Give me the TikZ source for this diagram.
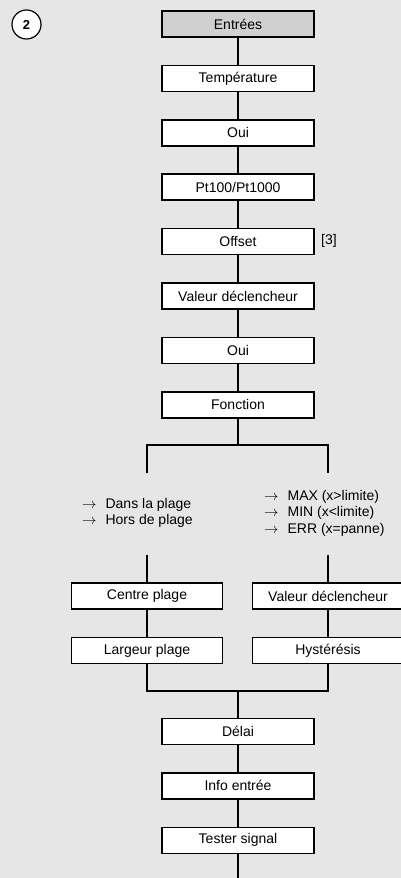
\documentclass[tikz,border=0pt]{standalone}
\usepackage{fontspec}
\setmainfont{Liberation Sans}
\usetikzlibrary{positioning,calc}
\definecolor{bggray}{RGB}{230,230,230}
\definecolor{headgray}{RGB}{208,208,208}

\tikzset{
  menubox/.style={draw, line width=1.5pt, fill=white, minimum width=152pt,
    minimum height=26pt, inner sep=0pt, font=\fontsize{14}{16}\selectfont},
  sidebox/.style={menubox, minimum width=151pt},
  link/.style={line width=1.5pt},
  listtext/.style={align=left, inner sep=0pt, font=\fontsize{14}{16.5}\selectfont}
}

\begin{document}
\begin{tikzpicture}[x=1pt, y=1pt, node distance=26.9pt]
\fill[bggray] (0,0) rectangle (401,878);
\useasboundingbox (0,0) rectangle (401,878);
\clip (0,0) rectangle (401,878);

% step number
\node[draw, circle, line width=1.2pt, fill=white, minimum size=29pt, inner sep=0pt,
  font=\fontsize{13}{15}\selectfont\bfseries] (stepnum) at (26.5,853.5) {2};

% main column
\node[menubox, fill=headgray] (entrees) at (238,854) {Entrées};
\node[menubox, below=of entrees] (temp) {Température};
\node[menubox, below=of temp] (oui1) {Oui};
\node[menubox, below=of oui1] (sonde) {Pt100/Pt1000};
\node[menubox, below=of sonde] (offset) {Offset};
\node[menubox, below=of offset] (valeur) {Valeur déclencheur};
\node[menubox, below=of valeur] (oui2) {Oui};
\node[menubox, below=of oui2] (fonct) {Fonction};
\node[anchor=west, inner sep=0pt, font=\fontsize{14}{16}\selectfont] (ref) at (321,637) {[3]};

\foreach \a/\b in {entrees/temp, temp/oui1, oui1/sonde, sonde/offset,
                   offset/valeur, valeur/oui2, oui2/fonct}
  \draw[link] (\a) -- (\b);

% branch
\coordinate (split) at (238,433);
\coordinate (splitL) at (147,433);
\coordinate (splitR) at (328,433);
\coordinate (stubL) at (147,405);
\coordinate (stubR) at (328,405);
\coordinate (stubL2) at (147,323);
\coordinate (stubR2) at (328,323);
\draw[link] (fonct) -- (split);
\draw[link] (stubL) -- (splitL) -- (splitR) -- (stubR);

\node[listtext, anchor=west] (rangelist) at (82,365)
  {$\rightarrow$\hspace{9pt}Dans la plage\\ $\rightarrow$\hspace{9pt}Hors de plage};
\node[listtext, anchor=west] (limitlist) at (264,365)
  {$\rightarrow$\hspace{9pt}MAX (x>limite)\\ $\rightarrow$\hspace{9pt}MIN (x<limite)\\ $\rightarrow$\hspace{9pt}ERR (x=panne)};

% side columns
\node[sidebox] (centre) at (147,282) {Centre plage};
\node[sidebox, below=of centre] (largeur) {Largeur plage};
\node[sidebox] (valeur2) at (328,282) {Valeur déclencheur};
\node[sidebox, below=of valeur2] (hyst) {Hystérésis};

\draw[link] (stubL2) -- (centre);
\draw[link] (stubR2) -- (valeur2);
\draw[link] (centre) -- (largeur);
\draw[link] (valeur2) -- (hyst);

% join
\coordinate (join) at (238,187);
\coordinate (joinL) at (147,187);
\coordinate (joinR) at (328,187);
\draw[link] (largeur) -- (joinL) -- (joinR) -- (hyst);

% lower column
\node[menubox] (delai) at (238,146.5) {Délai};
\node[menubox, below=of delai] (info) {Info entrée};
\node[menubox, below=of info] (tester) {Tester signal};
\coordinate (tail) at (238,0);

\draw[link] (join) -- (delai);
\draw[link] (delai) -- (info);
\draw[link] (info) -- (tester);
\draw[link] (tester) -- (tail);
\end{tikzpicture}
\end{document}
